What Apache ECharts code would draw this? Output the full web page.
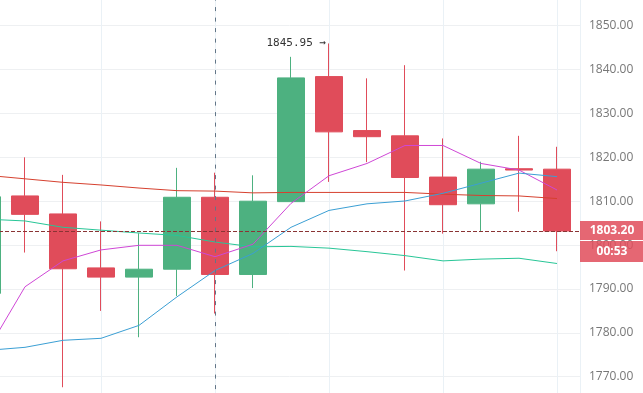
<!DOCTYPE html>
<html>
<head>
<meta charset="utf-8">
<script src="https://cdn.jsdelivr.net/npm/echarts@6/dist/echarts.min.js"></script>
<style>html,body{margin:0;padding:0;background:#fff}#c{width:643px;height:393px}</style>
</head>
<body>
<div id="c"></div>
<script>
// candle index positions (value x-axis)
const idx = [0,1,2,3,4,5,6,7,8,9,10,11,12,13,14,15];
const open  = [1789.0,1811.2,1807.1,1794.8,1792.7,1794.5,1810.9,1793.3,1809.9,1838.4,1826.1,1824.9,1815.5,1809.4,1817.4,1817.3];
const close = [1811.0,1807.0,1794.6,1792.7,1794.5,1810.9,1793.3,1810.0,1838.1,1825.8,1824.7,1815.4,1809.2,1817.3,1817.1,1803.2];
const low   = [1786.0,1798.3,1767.6,1785.0,1779.0,1788.4,1784.4,1790.2,1809.9,1814.4,1818.9,1794.2,1802.6,1803.0,1807.6,1798.6];
const high  = [1813.0,1820.0,1816.0,1805.4,1802.7,1817.6,1816.5,1815.9,1842.9,1845.95,1838.0,1841.0,1824.3,1819.0,1824.9,1822.4];
const maRed     = [1815.9,1815.1,1814.3,1813.7,1813.0,1812.4,1812.3,1811.9,1812.0,1812.0,1812.0,1812.0,1811.6,1811.3,1811.2,1810.6];
const maTeal    = [1805.9,1805.5,1804.05,1803.4,1802.75,1802.2,1800.7,1799.6,1799.7,1799.3,1798.5,1797.6,1796.4,1796.8,1797.0,1795.8];
const maMagenta = [1775.8,1790.5,1796.4,1798.9,1799.95,1799.95,1797.35,1800.2,1809.5,1815.8,1818.6,1822.7,1822.7,1818.6,1817.1,1812.55];
const maBlue    = [1776.0,1776.7,1778.3,1778.75,1781.7,1788.2,1794.2,1798.1,1804.05,1807.9,1809.4,1810.05,1811.8,1814.1,1816.4,1815.6];
const lastPrice = 1803.20;
const countdown = '00:53';
const highIdx = 9;
const highValue = 1845.95;
const crosshairIdx = 6;

const UP = '#4db180', DOWN = '#e04c5a';
const candles = idx.map((x,i)=>[x, open[i], close[i], low[i], high[i]]);
const line = (arr)=>idx.map((x,i)=>[x, arr[i]]);
const lineSeries = (arr, color)=>({type:'line', data: line(arr), symbol:'none', smooth:false,
  lineStyle:{color, width:1}, itemStyle:{color}, z:3, silent:true, animation:false});

const chart = echarts.init(document.getElementById('c'), null, {renderer:'canvas'});
chart.setOption({
  animation:false,
  backgroundColor:'#ffffff',
  grid:{left:-127, right:63, top:-18.2, bottom:-27.6, containLabel:false, outerBoundsMode:'none'},
  xAxis:{type:'value', min:-3, max:15.605, interval:3,
    axisLine:{show:false}, axisTick:{show:false}, axisLabel:{show:false},
    splitLine:{show:true, lineStyle:{color:'#eaf1f6', width:1}}},
  yAxis:{type:'value', position:'right', min:1760, max:1860, interval:10,
    axisLine:{show:true, lineStyle:{color:'#dfe3e7'}},
    axisTick:{show:true, length:5, lineStyle:{color:'#d3d7db'}},
    axisLabel:{margin:9, color:'#777777', fontFamily:'Open Sans', fontSize:12,
      formatter:(v)=>v.toFixed(2)},
    splitLine:{show:true, lineStyle:{color:'#eef0f2', width:1}}},
  series:[
    lineSeries(maRed,'#d6412f'),
    lineSeries(maTeal,'#28c697'),
    {type:'candlestick', data:candles, encode:{x:0, y:[1,2,3,4]}, barWidth:27, z:2,
      itemStyle:{color:UP, color0:DOWN, borderColor:UP, borderColor0:DOWN, borderWidth:1},
      markLine:{silent:true, symbol:['none','none'], animation:false,
        data:[
          {yAxis:lastPrice, lineStyle:{color:'#8a3434', type:[4,2], width:1},
           label:{show:true, position:'end', distance:0,
             formatter:'{s|}\n{a|'+lastPrice.toFixed(2)+'}\n{b|'+countdown+'}',
             rich:{
               s:{height:20, lineHeight:20, width:64},
               a:{height:19, lineHeight:21, width:64, align:'center', backgroundColor:'rgba(224,76,90,0.85)',
                  color:'#fff', fontFamily:'Open Sans', fontSize:12, fontWeight:'bold'},
               b:{height:21, lineHeight:21, width:64, align:'center', backgroundColor:'rgba(224,76,90,0.85)',
                  color:'#fff', fontFamily:'Open Sans', fontSize:12, fontWeight:'bold'}
             }}},
          {xAxis:crosshairIdx, lineStyle:{color:'#627688', type:[4,6.5], width:1}, label:{show:false}}
        ]},
      markPoint:{symbol:'circle', symbolSize:0, animation:false, silent:true,
        data:[{coord:[highIdx, highValue], itemStyle:{color:'transparent'},
          label:{show:true, position:'left', distance:3, formatter: highValue.toFixed(2)+' \u2192',
            color:'#333333', fontFamily:'DejaVu Sans Mono', fontSize:11}}]}
    },
    lineSeries(maMagenta,'#cf47d6'),
    lineSeries(maBlue,'#3b9fd4')
  ]
});
</script>
</body>
</html>
